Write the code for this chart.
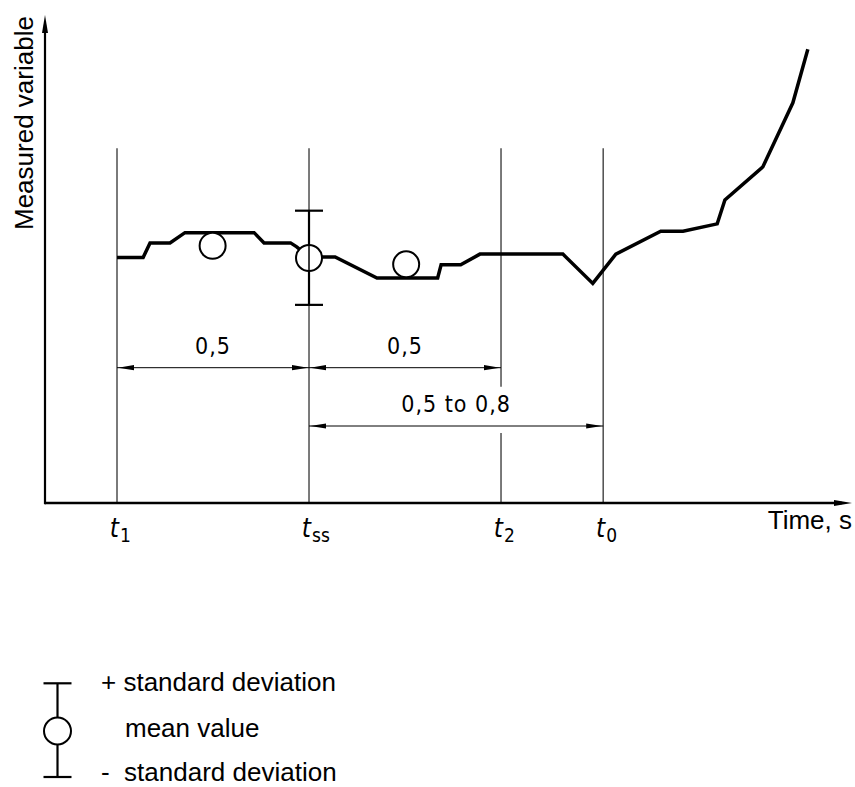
<!DOCTYPE html>
<html>
<head>
<meta charset="utf-8">
<script src="https://cdn.jsdelivr.net/npm/d3@7"></script>
<style>
  body { margin: 0; background: #fff; }
  svg { display: block; }
  .label { font-family: "Liberation Sans", Arial, sans-serif; font-size: 26px; fill: #000; }
  .iso { font-family: "DejaVu Sans Condensed", "DejaVu Sans", sans-serif; font-stretch: condensed; fill: #000; }
</style>
</head>
<body>
<svg width="855" height="787"></svg>
<script>
// measured curve, time in s (t1 = 0), value in arbitrary units
const curveTime = [0, 0.068, 0.086, 0.138, 0.177, 0.357, 0.383, 0.452, 0.468, 0.5, 0.568, 0.677, 0.835, 0.844, 0.895, 0.945, 1.161, 1.239, 1.299, 1.416, 1.474, 1.563, 1.583, 1.682, 1.760, 1.799];
const curveValue = [5.03, 5.03, 5.33, 5.33, 5.54, 5.54, 5.33, 5.33, 5.25, 5.04, 5.04, 4.61, 4.61, 4.88, 4.88, 5.10, 5.10, 4.50, 5.10, 5.57, 5.57, 5.72, 6.21, 6.89, 8.20, 9.30];

// mean values
const meanTime = [0.249, 0.5, 0.753];
const meanValue = [5.27, 5.02, 4.89];

// standard deviation drawn at t_ss
const sdTime = 0.5;
const sdPlus = 5.99;
const sdMinus = 4.06;

// marked instants
const markNames = ["1", "ss", "2", "0"];
const markTimes = [0, 0.5, 1.0, 1.266];
const markTop = 7.27;

// dimensions between marks
const dimFrom = [0, 0.5, 0.5];
const dimTo = [0.5, 1.0, 1.266];
const dimLabels = ["0,5", "0,5", "0,5 to 0,8"];

const legendLabels = ["+ standard deviation", "mean value", "-  standard deviation"];

const { select, scaleLinear, line } = d3;

const svg = select('svg');

const xScale = scaleLinear()
  .domain([-0.1875, 1.914])
  .range([45, 852]);

const yScale = scaleLinear()
  .domain([0, 10])
  .range([503, 15]);

const x0 = xScale.range()[0];
const y0 = yScale.range()[0];

// filled arrow head, tip at (x,y)
const arrowHead = (x, y, dir, len, half) => {
  if (dir === 'right') return `M${x},${y}L${x - len},${y - half}L${x - len},${y + half}Z`;
  if (dir === 'left') return `M${x},${y}L${x + len},${y - half}L${x + len},${y + half}Z`;
  return `M${x},${y}L${x - half},${y + len}L${x + half},${y + len}Z`; // up
};

// vertical instant lines
const dimRowY = [367.7, 367.7, 426];
markTimes.forEach((t, i) => {
  const x = xScale(t);
  if (markNames[i] === "2") {
    // broken where the long dimension crosses
    svg.append('line').attr('x1', x).attr('x2', x).attr('y1', yScale(markTop)).attr('y2', 386.7)
      .attr('stroke', '#222').attr('stroke-width', 1.2);
    svg.append('line').attr('x1', x).attr('x2', x).attr('y1', 433).attr('y2', y0)
      .attr('stroke', '#222').attr('stroke-width', 1.2);
  } else {
    svg.append('line').attr('x1', x).attr('x2', x).attr('y1', yScale(markTop)).attr('y2', y0)
      .attr('stroke', '#222').attr('stroke-width', 1.2);
  }
});

// axes
svg.append('line').attr('x1', x0).attr('x2', xScale.range()[1] - 10).attr('y1', y0).attr('y2', y0)
  .attr('stroke', '#000').attr('stroke-width', 2.5);
svg.append('path').attr('d', arrowHead(xScale.range()[1], y0, 'right', 18, 3)).attr('fill', '#000');
svg.append('line').attr('x1', x0).attr('x2', x0).attr('y1', y0 + 1.2).attr('y2', yScale.range()[1] + 10)
  .attr('stroke', '#000').attr('stroke-width', 2.2);
svg.append('path').attr('d', arrowHead(x0, yScale.range()[1], 'up', 18, 3)).attr('fill', '#000');

svg.append('text').attr('class', 'label')
  .attr('x', 852).attr('y', 529).attr('text-anchor', 'end')
  .text('Time, s');

svg.append('text').attr('class', 'label')
  .attr('transform', `translate(33,230) rotate(-90)`)
  .text('Measured variable');

// instant labels t1, tss, t2, t0
markTimes.forEach((t, i) => {
  const x = xScale(t);
  svg.append('text').attr('class', 'iso')
    .attr('x', x + 2).attr('y', 537).attr('text-anchor', 'end')
    .style('font-size', '26px').style('font-style', 'italic')
    .text('t');
  svg.append('text').attr('class', 'iso')
    .attr('x', x + 3).attr('y', 542)
    .style('font-size', '19px')
    .text(markNames[i]);
});

// dimensions
dimFrom.forEach((f, i) => {
  const xa = xScale(f);
  const xb = xScale(dimTo[i]);
  const y = dimRowY[i];
  svg.append('line').attr('x1', xa).attr('x2', xb).attr('y1', y).attr('y2', y)
    .attr('stroke', '#000').attr('stroke-width', 1);
  svg.append('path').attr('d', arrowHead(xa + 1, y, 'left', 16, 2.6)).attr('fill', '#000');
  svg.append('path').attr('d', arrowHead(xb - 1, y, 'right', 16, 2.6)).attr('fill', '#000');
  svg.append('text').attr('class', 'iso')
    .attr('x', (xa + xb) / 2).attr('y', y - 14)
    .attr('text-anchor', 'middle')
    .style('font-size', '23px').style('letter-spacing', '1px')
    .text(dimLabels[i]);
});

// measured curve
const points = curveTime.map((t, i) => [t, curveValue[i]]);
const lineGenerator = line()
  .x(d => xScale(d[0]))
  .y(d => yScale(d[1]));

svg.append('path')
  .attr('d', lineGenerator(points))
  .attr('fill', 'none')
  .attr('stroke', '#000')
  .attr('stroke-width', 3.5)
  .attr('stroke-linejoin', 'miter');

// standard deviation bar
const sdX = xScale(sdTime);
svg.append('line').attr('x1', sdX).attr('x2', sdX).attr('y1', yScale(sdPlus)).attr('y2', yScale(sdMinus))
  .attr('stroke', '#000').attr('stroke-width', 2.2);
[sdPlus, sdMinus].forEach(v => {
  svg.append('line').attr('x1', sdX - 14).attr('x2', sdX + 14).attr('y1', yScale(v)).attr('y2', yScale(v))
    .attr('stroke', '#000').attr('stroke-width', 2.2);
});

// mean values
svg.selectAll('circle.mean').data(meanTime)
  .enter().append('circle')
  .attr('class', 'mean')
  .attr('cx', d => xScale(d))
  .attr('cy', (d, i) => yScale(meanValue[i]))
  .attr('r', 13)
  .attr('fill', '#fff')
  .attr('stroke', '#000')
  .attr('stroke-width', 2);

// line of t_ss shows through the mean circle
svg.append('line').attr('x1', sdX).attr('x2', sdX)
  .attr('y1', yScale(meanValue[1]) - 13).attr('y2', yScale(meanValue[1]) + 13)
  .attr('stroke', '#000').attr('stroke-width', 1.5);

// legend
const lx = 57.5;
const legendY = [683.3, 731, 777];
svg.append('line').attr('x1', lx).attr('x2', lx).attr('y1', legendY[0]).attr('y2', legendY[2])
  .attr('stroke', '#000').attr('stroke-width', 2.2);
[legendY[0], legendY[2]].forEach(y => {
  svg.append('line').attr('x1', lx - 14).attr('x2', lx + 14).attr('y1', y).attr('y2', y)
    .attr('stroke', '#000').attr('stroke-width', 2.2);
});
svg.append('circle').attr('cx', lx).attr('cy', legendY[1]).attr('r', 13.5)
  .attr('fill', '#fff').attr('stroke', '#000').attr('stroke-width', 2);

const legendTextX = [101, 125, 101];
const legendTextY = [691, 736.5, 781];
legendLabels.forEach((d, i) => {
  svg.append('text').attr('class', 'label')
    .attr('x', legendTextX[i]).attr('y', legendTextY[i])
    .style('white-space', 'pre')
    .text(d);
});
</script>
</body>
</html>
